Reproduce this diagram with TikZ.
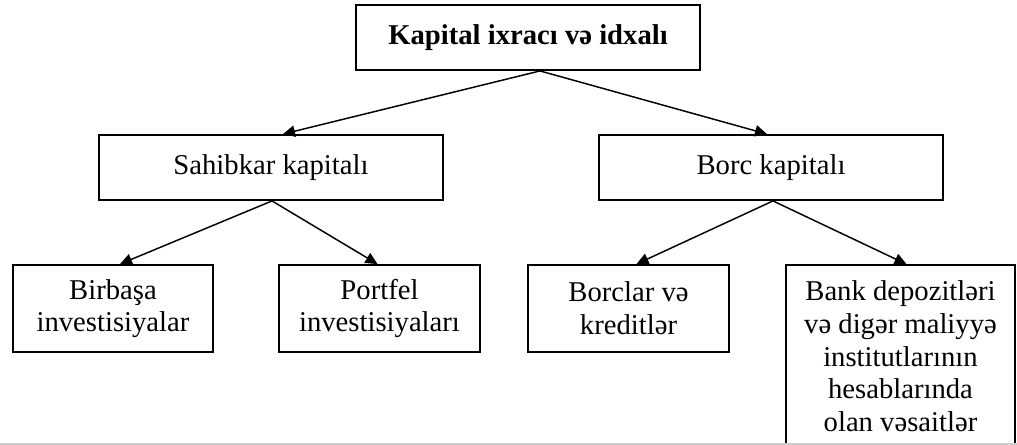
\documentclass[tikz,border=0pt]{standalone}
\usepackage{fontspec}
\setmainfont{Liberation Serif}
\usetikzlibrary{arrows.meta,calc}

\tikzset{
  blok/.style={draw, line width=1.4pt, align=center, inner sep=2pt, font=\fontsize{21.5}{24.5}\selectfont},
  altblok/.style={blok, minimum width=150.5pt, minimum height=65.25pt},
  ox/.style={line width=1.1pt, -{Triangle[length=9pt,width=8.5pt]}}
}

\begin{document}
\begin{tikzpicture}[x=0.75pt,y=0.75pt,yscale=-1,xscale=1]
\useasboundingbox (0,0) rectangle (1017,445);
\fill [white] (0,0) rectangle (1017,445);

\begin{scope}
\clip (0,0) rectangle (1017,443);
% Title
\node [blok, minimum width=258pt, minimum height=48.75pt, font=\bfseries\fontsize{21.5}{24.5}\selectfont] (bas) at (528,37.5) {Kapital ixracı və idxalı};
% Middle level
\node [blok, minimum width=258pt, minimum height=48.75pt] (sahib) at (271,167.5) {Sahibkar kapitalı};
\node [blok, minimum width=258pt, minimum height=48.75pt] (borc) at (771,167.5) {Borc kapitalı};
% Bottom level
\node [altblok] (birbasa) at (113,308.5) {Birbaşa\\investisiyalar};
\node [altblok] (portfel) at (379.5,308.5) {Portfel\\investisiyaları};
\node [altblok] (borclar) at (628.5,308.5) {Borclar və\\kreditlər};
\node [blok, minimum width=171.75pt, minimum height=137pt] (bank) at (900.5,356.5) {Bank depozitləri\\və digər maliyyə\\institutlarının\\hesablarında\\olan vəsaitlər};

% Arrows
\draw [ox] ($(bas.south)+(12,0)$) -- ($(sahib.north)+(12,0)$);
\draw [ox] ($(bas.south)+(12,0)$) -- ($(borc.north)+(-4,0)$);
\draw [ox] ($(sahib.south)+(1,0)$) -- ($(birbasa.north)+(7,0)$);
\draw [ox] ($(sahib.south)+(1,0)$) -- ($(portfel.north)+(-2,0)$);
\draw [ox] ($(borc.south)+(2,0)$) -- ($(borclar.north)+(8,0)$);
\draw [ox] ($(borc.south)+(2,0)$) -- ($(bank.north)+(6,0)$);
\end{scope}

\draw [color={rgb, 255:red, 205; green, 205; blue, 205}, line width=1.2pt] (0,444) -- (1017,444);

\end{tikzpicture}
\end{document}
